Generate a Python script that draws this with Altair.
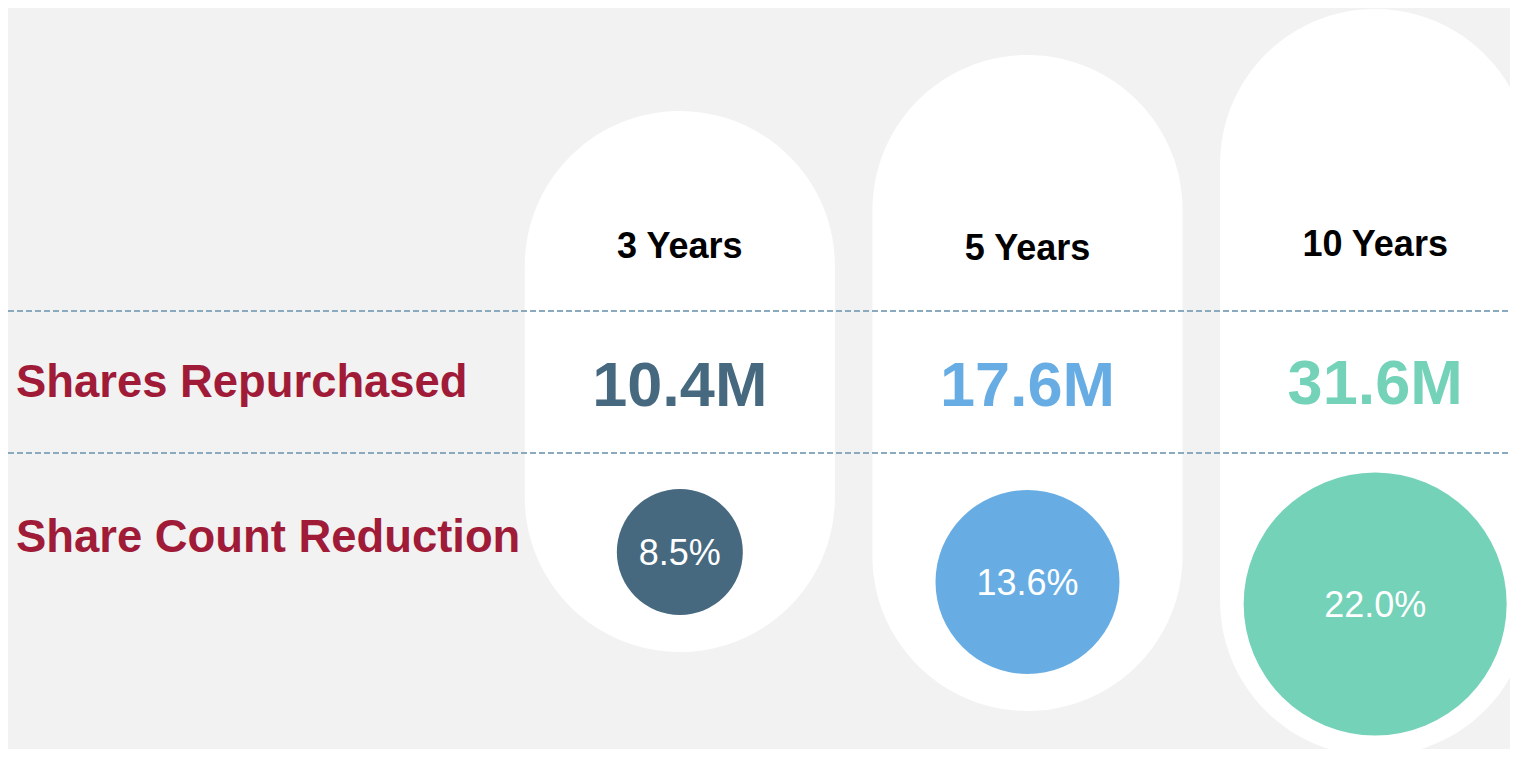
import altair as alt
import pandas as pd

# ---- data ----
categories = ["3 Years", "5 Years", "10 Years"]
shares_repurchased = [10.4, 17.6, 31.6]        # millions
share_count_reduction = [8.5, 13.6, 22.0]      # percent
row_labels = ["Shares Repurchased", "Share Count Reduction"]

# ---- style / layout (page pixels) ----
colors = ["#46697F", "#67ADE4", "#73D2B8"]
pill_top = [111, 55, 9]
pill_bottom = [652, 711, 756]
circle_y = [552, 582, 604]
header_y = [258, 260, 256]
value_y = [406, 406, 404]
row_y = [397, 552]
divider_y = [311, 453]

W, H = 1502, 741
FONT = "Liberation Sans, Arial, Helvetica, sans-serif"

cols = pd.DataFrame({
    "cat": categories,
    "repurchased": shares_repurchased,
    "reduction": share_count_reduction,
    "top": pill_top,
    "bottom": pill_bottom,
    "cy": circle_y,
    "hy": header_y,
    "vy": value_y,
})
cols["rep_label"] = [f"{v:.1f}M" for v in shares_repurchased]
cols["red_label"] = [f"{v:.1f}%" for v in share_count_reduction]

rows = pd.DataFrame({"label": row_labels, "y": row_y})
dividers = pd.DataFrame({"y": divider_y})

x_scale = alt.Scale(domain=categories, range=[498, 1541],
                    paddingInner=0.108, paddingOuter=0.054)
y_scale = alt.Scale(domain=[8, 8 + H], reverse=True, nice=False, zero=False)
color_scale = alt.Scale(domain=categories, range=colors)

X = alt.X("cat:N", scale=x_scale, axis=None, sort=categories)

base = alt.Chart(cols)

pills = base.mark_bar(color="white", cornerRadius=155).encode(
    x=X,
    y=alt.Y("top:Q", scale=y_scale, axis=None),
    y2="bottom:Q",
)

rules = alt.Chart(dividers).mark_rule(
    color="#89AABF", strokeWidth=2, strokeDash=[6, 3]
).encode(
    y=alt.Y("y:Q", scale=y_scale, axis=None),
    x=alt.value(0),
    x2=alt.value(W),
)

headers = base.mark_text(
    font=FONT, fontSize=36, fontWeight="bold", color="black",
    baseline="alphabetic", align="center",
).encode(
    x=X,
    y=alt.Y("hy:Q", scale=y_scale, axis=None),
    text="cat:N",
)

values = base.mark_text(
    font=FONT, fontSize=63, fontWeight="bold",
    baseline="alphabetic", align="center",
).encode(
    x=X,
    y=alt.Y("vy:Q", scale=y_scale, axis=None),
    text="rep_label:N",
    color=alt.Color("cat:N", scale=color_scale, legend=None),
)

circles = base.mark_circle(opacity=1, strokeWidth=0).encode(
    x=X,
    y=alt.Y("cy:Q", scale=y_scale, axis=None),
    size=alt.Size("reduction:Q",
                  scale=alt.Scale(domain=[8.5, 13.6, 22.0],
                                  range=[126 ** 2, 184 ** 2, 263 ** 2]),
                  legend=None),
    color=alt.Color("cat:N", scale=color_scale, legend=None),
)

pct = base.mark_text(
    font=FONT, fontSize=36, fontWeight="normal", color="white",
    baseline="alphabetic", align="center", dy=13,
).encode(
    x=X,
    y=alt.Y("cy:Q", scale=y_scale, axis=None),
    text="red_label:N",
)

labels = alt.Chart(rows).mark_text(
    font=FONT, fontSize=45.4, fontWeight="bold", color="#A01B37",
    baseline="alphabetic", align="left",
).encode(
    x=alt.value(8),
    y=alt.Y("y:Q", scale=y_scale, axis=None),
    text="label:N",
)

chart = alt.layer(pills, rules, headers, values, circles, pct, labels).properties(
    width=W, height=H,
    background="#F2F2F2",
    padding=0,
    autosize=alt.AutoSizeParams(type="none"),
).configure_view(stroke=None)

chart.save("out.html", embed_options={"renderer": "svg", "actions": False})
